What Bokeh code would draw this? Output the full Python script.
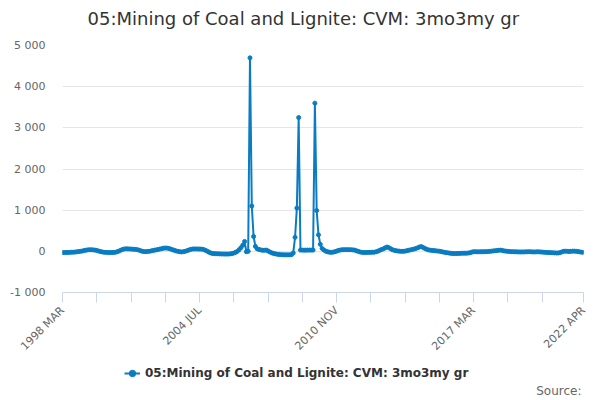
import pandas as pd
from bokeh.plotting import figure
from bokeh.layouts import column
from bokeh.models import Range1d, FixedTicker, Title, Legend, LegendItem, ColumnDataSource, Label
from bokeh.embed import file_html
from bokeh.resources import INLINE

TITLE = "05:Mining of Coal and Lignite: CVM: 3mo3my gr"
SERIES_NAME = "05:Mining of Coal and Lignite: CVM: 3mo3my gr"
SOURCE_TEXT = "Source:"

months = [p_.strftime("%Y %b").upper() for p_ in pd.period_range("1998-03", "2022-04", freq="M")]

values = [
    -30, -30, -28, -27, -25, -22, -20, -18, -12, -5,
    0, 8, 18, 28, 35, 38, 38, 35, 30, 20,
    8, -5, -15, -22, -25, -27, -28, -28, -27, -25,
    -15, 0, 20, 40, 55, 60, 60, 58, 55, 52,
    48, 45, 35, 20, 5, -5, -8, -5, 0, 8,
    18, 28, 35, 45, 55, 65, 75, 80, 78, 70,
    55, 40, 25, 10, 0, -10, -15, -10, 0, 15,
    30, 45, 55, 58, 58, 56, 55, 55, 48, 30,
    10, -15, -35, -50, -55, -58, -60, -62, -64, -65,
    -66, -66, -65, -62, -55, -42, -25, 0, 40, 90,
    150, 240, -10, 0, 4700, 1100, 360, 120, 60, 45,
    35, 25, 25, 30, 10, -15, -35, -50, -60, -70,
    -75, -80, -82, -85, -85, -85, -85, -80, -40, 340,
    1050, 3250, 30, 30, 28, 28, 30, 30, 30, 30,
    3600, 990, 400, 170, 70, 30, 5, -10, -20, -25,
    -20, -10, 5, 20, 30, 38, 40, 40, 40, 40,
    38, 35, 30, 15, 0, -15, -25, -28, -28, -27,
    -25, -25, -22, -20, -10, 5, 25, 45, 60, 85,
    105, 90, 65, 40, 25, 15, 8, 3, 0, 0,
    5, 15, 25, 35, 45, 55, 70, 85, 105, 115,
    95, 70, 50, 35, 28, 22, 18, 12, 8, 3,
    -5, -15, -25, -32, -38, -45, -50, -55, -55, -52,
    -50, -48, -45, -45, -45, -42, -35, -20, -8, -10,
    -12, -12, -10, -10, -8, -8, -5, 0, 5, 10,
    15, 20, 25, 30, 20, 10, 5, 0, -5, -8,
    -10, -12, -12, -15, -15, -15, -15, -12, -10, -10,
    -12, -15, -15, -12, -12, -15, -18, -22, -25, -28,
    -30, -32, -35, -38, -40, -40, -30, -15, 0, 5,
    0, -5, 0, 5, 5, 0, -5, -15, -20, -25,
]

y_ticks = [-1000, 0, 1000, 2000, 3000, 4000, 5000]
y_tick_labels = ["-1 000", "0", "1 000", "2 000", "3 000", "4 000", "5 000"]
labeled_months = ["1998 MAR", "2004 JUL", "2010 NOV", "2017 MAR", "2022 APR"]

n = len(months)
idx = list(range(n))
src = ColumnDataSource(dict(x=idx, y=values[:n], month=months))

COLOR = "#0a7cc1"
FONT = "DejaVu Sans"

# ---------------- main chart ----------------
p = figure(width=600, height=365, output_backend="svg", toolbar_location=None,
           x_range=Range1d(0, n - 1), y_range=Range1d(-1000, 5000),
           min_border_left=62, min_border_right=17, min_border_top=45, min_border_bottom=73)
p.outline_line_color = None
p.background_fill_color = "white"
p.border_fill_color = "white"

p.line("x", "y", source=src, line_color=COLOR, line_width=2)
p.scatter("x", "y", source=src, size=4, fill_color=COLOR, line_color=COLOR)

spacer = Title(text=" ", text_font_size="5px", standoff=0)
p.add_layout(spacer, "above")
t = Title(text=TITLE, align="left", offset=25, vertical_align="top", standoff=14, text_font=FONT,
          text_font_size="18px", text_font_style="normal", text_color="#333333")
p.add_layout(t, "above")

p.yaxis.ticker = FixedTicker(ticks=y_ticks)
p.yaxis.major_label_overrides = dict(zip(y_ticks, y_tick_labels))
p.yaxis.axis_line_color = None
p.yaxis.major_tick_line_color = None
p.yaxis.minor_tick_line_color = None
p.yaxis.major_label_text_font = FONT
p.yaxis.major_label_text_font_size = "11px"
p.yaxis.major_label_text_color = "#666666"
p.yaxis.major_label_standoff = 11
p.ygrid.grid_line_color = "#e6e6e6"
p.xgrid.grid_line_color = None

x_ticks = list(range(0, n - 20, 19)) + [n - 1]
p.xaxis.ticker = FixedTicker(ticks=x_ticks)
p.xaxis.major_label_overrides = {t_: (months[t_] if months[t_] in labeled_months else "") for t_ in x_ticks}
p.xaxis.axis_line_color = "#ccd6eb"
p.xaxis.major_tick_line_color = "#ccd6eb"
p.xaxis.major_tick_out = 10
p.xaxis.major_tick_in = 0
p.xaxis.minor_tick_line_color = None
p.xaxis.major_label_orientation = 0.785398
p.xaxis.major_label_text_font = FONT
p.xaxis.major_label_text_font_size = "11px"
p.xaxis.major_label_text_color = "#666666"
p.xaxis.major_label_standoff = 6

# ---------------- legend + source strip ----------------
q = figure(width=600, height=35, output_backend="svg", toolbar_location=None,
           x_range=Range1d(-10 * n, -9 * n), y_range=Range1d(0, 1),
           x_axis_type=None, y_axis_type=None,
           min_border_left=0, min_border_right=0, min_border_top=0, min_border_bottom=0)
q.outline_line_color = None
q.background_fill_color = "white"
q.border_fill_color = "white"
q.xgrid.grid_line_color = None
q.ygrid.grid_line_color = None

ln2 = q.line("x", "y", source=src, line_color=COLOR, line_width=2)
sc2 = q.scatter("x", "y", source=src, size=4, fill_color=COLOR, line_color=COLOR)

legend = Legend(items=[LegendItem(label=SERIES_NAME, renderers=[ln2, sc2])], location=(62, 19),
                orientation="horizontal",
                label_text_font=FONT, label_text_font_size="12px", label_text_font_style="bold",
                label_text_color="#333333", background_fill_alpha=0, border_line_alpha=0,
                glyph_width=16, glyph_height=16, label_height=16, label_standoff=5,
                padding=0, margin=0)
q.add_layout(legend, "center")

src_lbl = Label(x=519, y=10, x_units="screen", y_units="screen", text=SOURCE_TEXT,
                text_align="right", text_baseline="middle", text_font=FONT,
                text_font_size="12px", text_color="#666666")
q.add_layout(src_lbl)

layout = column(p, q, spacing=0)
open("out.html", "w").write(file_html(layout, INLINE))
